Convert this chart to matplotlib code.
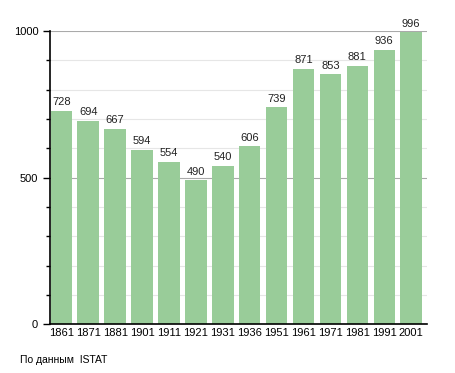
import matplotlib.pyplot as plt
from matplotlib.ticker import MultipleLocator

plt.rcParams['font.family'] = ['Liberation Sans', 'DejaVu Sans']

# census years and population
years = ["1861", "1871", "1881", "1901", "1911", "1921", "1931",
         "1936", "1951", "1961", "1971", "1981", "1991", "2001"]
population = [728, 694, 667, 594, 554, 490, 540,
              606, 739, 871, 853, 881, 936, 996]
source_note = "По данным  ISTAT"

bar_color = "#99cc99"

fig = plt.figure(figsize=(4.55, 3.73), dpi=100)
ax = fig.add_axes([0.110, 0.131, 0.828, 0.786])

pos = [i + 0.5 for i in range(len(years))]
bars = ax.bar([p - 0.08 for p in pos], population, width=0.8, color=bar_color, zorder=2)

for b, v in zip(bars, population):
    ax.text(b.get_x() + b.get_width() / 2, v + 12, str(v), ha="center", va="bottom",
            fontsize=8, color="#222222", clip_on=False)

ax.set_xlim(0, len(years))
ax.set_ylim(0, 1000)
ax.set_xticks([p - 0.08 for p in pos])
ax.set_xticklabels(years, fontsize=8)
ax.tick_params(axis="x", length=0, pad=3)

ax.yaxis.set_major_locator(MultipleLocator(500))
ax.yaxis.set_minor_locator(MultipleLocator(100))
ax.tick_params(axis="y", which="major", length=5, labelsize=8, width=1)
ax.tick_params(axis="y", which="minor", length=3, width=1)

ax.grid(axis="y", which="major", color="#aaaaaa", linewidth=0.8, zorder=0)
ax.grid(axis="y", which="minor", color="#e6e6e6", linewidth=0.8, zorder=0)
ax.set_axisbelow(True)

for s in ["top", "right"]:
    ax.spines[s].set_visible(False)
ax.spines["left"].set_linewidth(1.2)
ax.spines["bottom"].set_linewidth(1.2)

fig.text(20 / 455, 1 - 360 / 373, source_note, fontsize=7.5, va="center", ha="left")

fig.savefig("out.png", dpi=100)
